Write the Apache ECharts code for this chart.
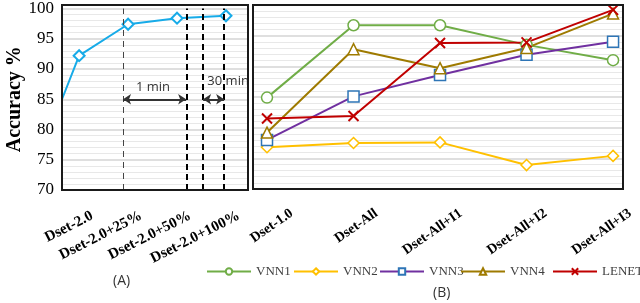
<!DOCTYPE html>
<html><head><meta charset="utf-8">
<script src="https://cdn.jsdelivr.net/npm/echarts@6/dist/echarts.min.js"></script>
<style>html,body{margin:0;padding:0;background:#fff}#c{width:640px;height:303px}</style>
</head><body><div id="c"></div>
<script>
// ---- data ----
const leftCats = ['Dset-2.0', 'Dset-2.0+25%', 'Dset-2.0+50%', 'Dset-2.0+100%'];
const leftX = [-0.35, 0, 1, 2, 3];
const leftY = [85, 92.2, 97.4, 98.4, 98.8];
const rightCats = ['Dset-1.0', 'Dset-All', 'Dset-All+I1', 'Dset-All+I2', 'Dset-All+I3'];
const vnn1 = [84.9, 96.7, 96.7, 93.5, 91.0];
const vnn2 = [76.8, 77.5, 77.6, 73.9, 75.4];
const vnn3 = [78.0, 85.1, 88.6, 91.9, 94.0];
const vnn4 = [79.2, 92.8, 89.7, 93.0, 98.6];
const lenet = [81.5, 81.9, 93.8, 93.9, 99.2];
const seriesNames = ['VNN1', 'VNN2', 'VNN3', 'VNN4', 'LENET'];
const yTicks = [70, 75, 80, 85, 90, 95, 100];
// annotation positions (left panel, data units)
const dashX = [0.897, 2.186, 2.533, 2.963];
const arrowY = 85;

const serif = 'Liberation Serif';
const G1 = {left: 62, top: 5, width: 186, height: 185};
const G2 = {left: 253, top: 5, width: 370, height: 184};
const XR1 = [-0.35, 3.45], XR2 = [-0.162, 4.115];
const LABEL_SHIFT = [13, 25];
const legendLeft = [206, 293, 379, 460, 552];
const chart = echarts.init(document.getElementById('c'), null, {renderer: 'canvas'});

function plainX(grid, r) {
  return {type: 'value', gridIndex: grid, min: r[0], max: r[1],
    axisLine: {show: false}, axisTick: {show: false}, splitLine: {show: false}, axisLabel: {show: false}};
}
function labelX(grid, r, cats, rot, fs, margin) {
  return {
    type: 'value', gridIndex: grid, min: r[0], max: r[1],
    axisLine: {show: false}, axisTick: {show: false}, splitLine: {show: false},
    axisLabel: {
      customValues: cats.map((_, i) => i),
      formatter: v => cats[Math.round(v)] || '',
      rotate: rot, margin: margin, fontFamily: serif, fontWeight: 'bold',
      fontSize: fs, color: '#000', hideOverlap: false
    }
  };
}
function yAxisDef(grid, showLabels, hidden) {
  return {
    type: 'value', gridIndex: grid, min: yTicks[0], max: yTicks[yTicks.length - 1], interval: 5,
    show: !hidden,
    axisLine: {show: false}, axisTick: {show: false},
    splitLine: {show: true, lineStyle: {color: '#d4d4d4', width: 1.5}},
    minorTick: {show: false, splitNumber: 5},
    minorSplitLine: {show: true, lineStyle: {color: '#e8e8e8', width: 1}},
    axisLabel: {show: showLabels, fontFamily: serif, fontSize: 17, color: '#000', margin: 8},
    name: showLabels ? 'Accuracy %' : '', nameLocation: 'middle', nameGap: 32,
    nameTextStyle: {fontFamily: serif, fontWeight: 'bold', fontSize: 20, color: '#000'}
  };
}
function mkRight(name, data, lineColor, markColor, symbol, size) {
  const isPath = symbol.startsWith('path');
  return {
    name: name, type: 'line', xAxisIndex: 1, yAxisIndex: 1,
    data: data.map((v, i) => [i, v]),
    symbol: symbol, symbolSize: size,
    lineStyle: {color: lineColor, width: 2},
    itemStyle: {color: isPath ? 'rgba(0,0,0,0)' : '#fff', borderColor: markColor, borderWidth: isPath ? 2 : 1.5},
    emphasis: {disabled: true}
  };
}
const cross = 'path://M0,0L10,10M0,10L10,0';
function border(g) {
  return {type: 'rect', z: 100, silent: true,
    shape: {x: g.left, y: g.top, width: g.width, height: g.height},
    style: {fill: 'none', stroke: '#1a1a1a', lineWidth: 2}};
}
function shifted(g, dx) { return {left: g.left + dx, top: g.top, width: g.width, height: g.height}; }

const option = {
  animation: false,
  backgroundColor: '#fff',
  grid: [G1, G2, shifted(G1, LABEL_SHIFT[0]), shifted(G2, LABEL_SHIFT[1])],
  xAxis: [
    plainX(0, XR1),
    plainX(1, XR2),
    labelX(2, XR1, leftCats, 27, 15, 25),
    labelX(3, XR2, rightCats, 35, 14, 23)
  ],
  yAxis: [yAxisDef(0, true, false), yAxisDef(1, false, false), yAxisDef(2, false, true), yAxisDef(3, false, true)],
  legend: seriesNames.map((n, i) => ({
    left: legendLeft[i], top: 265, padding: 0, itemWidth: 44, itemHeight: 8,
    textStyle: {fontFamily: serif, fontSize: 13, color: '#404040'},
    data: [n]
  })),
  graphic: [
    border(G1), border(G2),
    {type: 'text', left: 113, top: 274, style: {text: '(A)', font: '14px "Open Sans"', fill: '#333'}},
    {type: 'text', left: 433, top: 286, style: {text: '(B)', font: '14px "Open Sans"', fill: '#333'}}
  ],
  series: [
    {
      type: 'line', xAxisIndex: 0, yAxisIndex: 0,
      data: leftX.map((x, i) => ({value: [x, leftY[i]], symbol: i === 0 ? 'none' : 'diamond'})),
      symbolSize: 11,
      lineStyle: {color: '#17ABE8', width: 2},
      itemStyle: {color: '#fff', borderColor: '#17ABE8', borderWidth: 2},
      emphasis: {disabled: true},
      markLine: {
        silent: true, symbol: 'none', animation: false,
        label: {show: false},
        data: [
          {xAxis: dashX[0], lineStyle: {color: '#444', width: 1, type: [6, 5]}},
          {xAxis: dashX[1], lineStyle: {color: '#000', width: 2, type: [6, 4]}},
          {xAxis: dashX[2], lineStyle: {color: '#000', width: 2, type: [6, 4]}},
          {xAxis: dashX[3], lineStyle: {color: '#000', width: 2, type: [6, 4]}},
          [{coord: [dashX[0], arrowY], symbol: 'arrow'}, {coord: [dashX[1], arrowY], symbol: 'arrow', lineStyle: {color: '#333', width: 2, type: 'solid'}}],
          [{coord: [dashX[2], arrowY], symbol: 'arrow'}, {coord: [dashX[3], arrowY], symbol: 'arrow', lineStyle: {color: '#333', width: 2, type: 'solid'}}]
        ],
        symbolSize: 8
      },
      markPoint: {
        silent: true, symbol: 'rect', symbolSize: 0,
        data: [
          {coord: [1.51, 86.9], label: {show: true, formatter: '1 min', position: 'inside', fontFamily: 'Open Sans', fontSize: 13, color: '#333'}},
          {coord: [2.62, 88.0], label: {show: true, formatter: '30 min', position: 'right', distance: 0, fontFamily: 'Open Sans', fontSize: 13, color: '#333'}}
        ]
      }
    },
    mkRight('VNN1', vnn1, '#70AD47', '#70AD47', 'circle', 11),
    mkRight('VNN2', vnn2, '#FFC000', '#FFC000', 'diamond', 11),
    mkRight('VNN3', vnn3, '#7030A0', '#2E75B6', 'rect', 11),
    mkRight('VNN4', vnn4, '#9E7A00', '#9E7A00', 'triangle', 11),
    mkRight('LENET', lenet, '#C00000', '#C00000', cross, 10)
  ]
};
chart.setOption(option);
</script></body></html>
